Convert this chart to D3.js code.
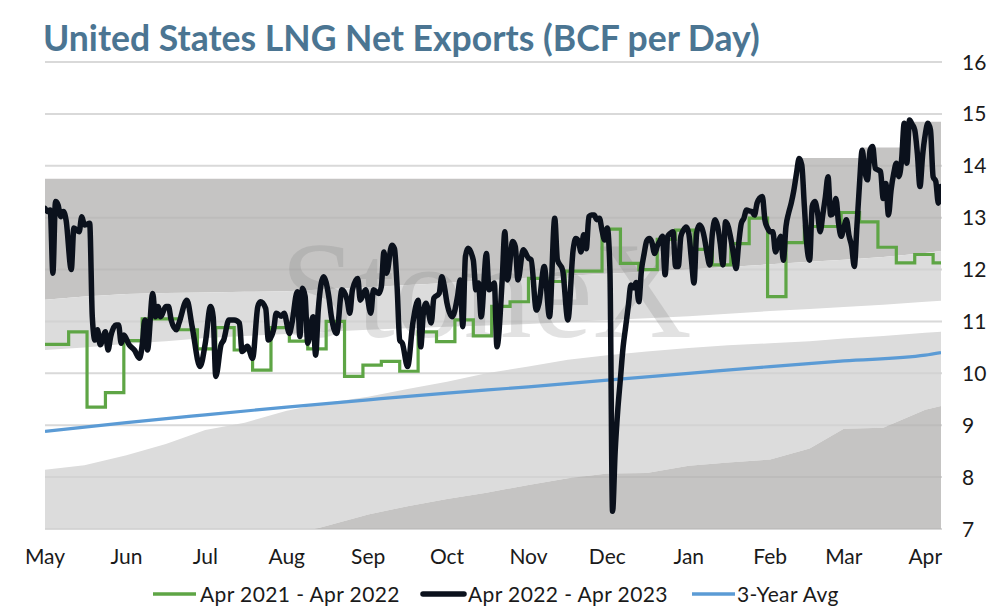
<!DOCTYPE html>
<html lang="en">
<head>
<meta charset="UTF-8">
<title>United States LNG Net Exports</title>
<script src="https://cdn.jsdelivr.net/npm/d3@7"></script>
<style>
  * { margin: 0; padding: 0; box-sizing: border-box; }
  body { background: #fff; overflow: hidden; }
  svg { display: block; font-family: Lato, 'Noto Sans', sans-serif; }
</style>
</head>
<body>
<svg id="chart" width="994" height="613"></svg>
<script>
// ---- data ----
const monthLabels = ["May", "Jun", "Jul", "Aug", "Sep", "Oct", "Nov", "Dec", "Jan", "Feb", "Mar", "Apr"];
const yTicks = [7, 8, 9, 10, 11, 12, 13, 14, 15, 16];

// historical range bands, sampled twice a month
const bandDates = ["2022-05-01", "2022-05-16", "2022-06-01", "2022-06-16", "2022-07-01", "2022-07-16",
  "2022-08-01", "2022-08-16", "2022-09-01", "2022-09-16", "2022-10-01", "2022-10-16",
  "2022-11-01", "2022-11-16", "2022-12-01", "2022-12-16", "2023-01-01", "2023-01-16",
  "2023-02-01", "2023-02-16", "2023-03-01", "2023-03-16", "2023-04-01", "2023-04-07"];
const rangeMin = [6.0, 6.15, 6.3, 6.45, 6.58, 6.7, 6.85, 7.06, 7.28, 7.44, 7.58, 7.7,
  7.85, 7.98, 8.07, 8.08, 8.22, 8.28, 8.34, 8.55, 8.93, 8.95, 9.3, 9.37];
const innerLow = [8.14, 8.23, 8.42, 8.64, 8.91, 9.05, 9.28, 9.43, 9.55, 9.7, 9.84, 10.0,
  10.13, 10.26, 10.35, 10.42, 10.49, 10.54, 10.58, 10.62, 10.67, 10.72, 10.78, 10.8];
const innerHigh = [10.45, 10.5, 10.57, 10.62, 10.68, 10.72, 10.76, 10.8, 10.84, 10.87, 10.9, 10.92,
  10.95, 10.99, 11.03, 11.06, 11.1, 11.15, 11.2, 11.24, 11.28, 11.32, 11.38, 11.4];
const upperLow = [11.42, 11.48, 11.53, 11.55, 11.56, 11.57, 11.58, 11.62, 11.66, 11.7, 11.74, 11.79,
  11.84, 11.88, 11.92, 11.96, 12.0, 12.05, 12.1, 12.15, 12.19, 12.24, 12.32, 12.36];
const maxDates = ["2022-05-01", "2023-02-11", "2023-03-08", "2023-03-24", "2023-04-07"];
const rangeMax = [13.75, 14.15, 14.35, 14.85, 14.85];

// Apr 2021 - Apr 2022 (weekly steps)
const prevDates = ["2022-05-01", "2022-05-10", "2022-05-17", "2022-05-24", "2022-05-31", "2022-06-07",
  "2022-06-14", "2022-06-21", "2022-06-28", "2022-07-05", "2022-07-12", "2022-07-19", "2022-07-26",
  "2022-08-02", "2022-08-09", "2022-08-16", "2022-08-23", "2022-08-30", "2022-09-06", "2022-09-13",
  "2022-09-20", "2022-09-27", "2022-10-04", "2022-10-11", "2022-10-18", "2022-10-25", "2022-11-01",
  "2022-11-08", "2022-11-15", "2022-11-22", "2022-11-29", "2022-12-06", "2022-12-13", "2022-12-20",
  "2022-12-27", "2023-01-03", "2023-01-10", "2023-01-17", "2023-01-24", "2023-01-31", "2023-02-07",
  "2023-02-14", "2023-02-21", "2023-02-28", "2023-03-07", "2023-03-14", "2023-03-21", "2023-03-28",
  "2023-04-04", "2023-04-07"];
const prevValues = [10.56, 10.8, 9.35, 9.63, 10.63, 11.05, 11.05, 10.84, 10.47, 10.88, 10.45, 10.06, 10.88,
  10.62, 10.47, 11.0, 9.94, 10.16, 10.23, 10.04, 10.8, 10.61, 11.03, 10.72, 11.29, 11.38, 11.83,
  11.77, 11.97, 11.97, 12.78, 12.12, 12.0, 12.58, 12.76, 12.39, 12.09, 12.5, 12.99, 11.48, 12.52,
  12.83, 12.83, 13.1, 12.92, 12.43, 12.13, 12.29, 12.13, 12.13];

// Apr 2022 - Apr 2023 (days after May 1, 2022)
const curDay = [0, 1, 2, 3, 4, 5, 6, 7, 8, 10, 11, 13, 14, 15, 17, 18, 19, 20, 21, 23, 24, 25, 27, 28, 29, 30,
  32, 34, 36, 37, 38, 39, 41, 42, 43, 44, 46, 47, 48, 50, 51, 54, 56, 59, 61, 63, 64, 65, 67, 68, 70,
  72, 74, 75, 77, 79, 81, 82, 84, 85, 87, 88, 90, 91, 93, 94, 96, 97, 98, 99, 100, 102, 103, 104, 106,
  108, 109, 111, 113, 115, 116, 117, 119, 120, 122, 124, 125, 127, 128, 129, 130, 132, 133, 134, 135,
  136, 138, 140, 142, 143, 144, 145, 147, 148, 150, 151, 152, 153, 155, 157, 158, 159, 160, 161, 163,
  164, 165, 166, 168, 169, 171, 172, 174, 175, 176, 178, 179, 180, 182, 184, 185, 187, 188, 190, 192,
  194, 195, 197, 199, 201, 202, 203, 204, 205, 206, 207, 208, 209, 210, 211, 212, 213, 214, 215, 216,
  217, 218, 219, 220, 221, 222, 223, 224, 225, 226, 227, 228, 229, 230, 231, 232, 233, 234, 235, 236,
  237, 238, 239, 240, 241, 242, 243, 244, 245, 246, 247, 248, 249, 250, 251, 252, 253, 254, 255, 256,
  257, 258, 259, 260, 261, 262, 263, 264, 265, 266, 267, 268, 269, 270, 271, 272, 273, 274, 275, 276,
  277, 278, 279, 280, 281, 282, 283, 284, 285, 286, 287, 288, 289, 290, 291, 292, 293, 294, 295, 296,
  297, 298, 299, 300, 301, 302, 303, 304, 305, 306, 307, 308, 309, 310, 311, 312, 313, 314, 315, 316,
  317, 318, 319, 320, 321, 322, 323, 324, 325, 326, 327, 328, 329, 330, 331, 332, 333, 334, 335, 336,
  337, 338, 339, 340, 341];
const curValues = [13.18, 13.12, 13.15, 11.93, 13.31, 13.24, 13.02, 13.12, 12.96, 12.0, 12.8, 12.73, 13.02,
  12.86, 12.89, 11.09, 10.64, 10.84, 10.55, 10.8, 10.45, 10.71, 10.93, 10.93, 10.58, 10.74,
  10.55, 10.45, 10.29, 10.55, 11.03, 10.45, 11.54, 11.09, 11.29, 11.09, 11.29, 11.29, 11.03, 10.84, 10.97,
  11.41, 10.9, 10.13, 10.58, 11.29, 11.09, 9.94, 10.55, 10.64, 11.03,
  11.03, 10.97, 10.42, 10.52, 10.29, 11.29, 11.38, 11.25, 10.64, 10.84, 11.16, 11.1, 11.16, 10.77, 10.97,
  11.57, 10.71, 11.64, 11.48, 10.58, 11.09, 10.35, 11.22, 11.86,
  11.48, 11.09, 10.77, 11.61, 11.41, 11.16, 11.61, 11.83, 11.41, 11.61, 11.16, 11.61, 11.54, 11.67, 12.34,
  11.93, 12.47, 12.4, 11.67, 10.64,
  10.58, 10.13, 10.97, 11.41, 10.51, 11.16, 11.35, 10.97, 11.45, 11.54, 11.86, 11.67, 11.35, 11.09, 11.48,
  11.8, 10.9, 12.25, 12.41, 12.18,
  11.61, 11.74, 11.09, 12.31, 11.61, 11.74, 10.51, 11.8, 12.73, 11.8, 12.54, 12.44, 11.8, 12.38, 12.22,
  12.19, 11.22, 11.35, 12.06, 11.09,
  12.99, 12.19, 11.99, 11.03, 12.38, 12.6, 12.55, 12.34, 12.67, 12.4, 13.02, 13.05, 13.05, 12.96, 12.99,
  12.75, 12.57, 12.8, 11.99, 7.34,
  8.5, 9.3, 9.9, 10.5, 10.9, 11.3, 11.7, 11.65, 11.75, 11.38, 11.99, 12.3, 12.55, 12.6, 12.52, 12.31,
  12.45, 12.55, 12.64, 11.9,
  12.64, 12.7, 12.73, 12.06, 12.06, 12.64, 12.76, 12.82, 12.7, 12.2, 11.74, 12.7, 12.86, 12.8, 12.6,
  12.3, 12.09, 12.7, 12.96, 12.83,
  12.5, 12.09, 12.92, 12.83, 12.6, 12.3, 12.02, 12.5, 12.89, 12.99, 13.15, 13.13, 13.12, 13.05, 13.28,
  13.38, 13.41, 12.95, 12.8, 12.73,
  12.73, 12.34, 12.5, 12.64, 12.18, 12.83, 13.09, 13.28, 13.53, 13.85, 14.14, 14.02, 13.22, 12.44, 12.18,
  13.22, 13.31, 13.1, 12.73, 13.05,
  13.4, 13.79, 13.05, 13.09, 13.37, 12.9, 12.64, 12.8, 12.96, 12.65, 12.45, 12.06, 12.83, 13.66, 14.3,
  13.9, 13.73, 14.3, 14.37, 13.95,
  13.92, 13.89, 13.37, 13.66, 13.05, 13.53, 13.85, 14.05, 13.79, 14.11, 14.82, 14.05, 14.88, 14.8, 14.69,
  14.24, 13.6, 14.2, 14.6, 14.82,
  14.69, 13.79, 13.7, 13.28, 13.6];

// 3-year average
const avgDates = ["2022-05-01", "2022-06-01", "2022-07-01", "2022-08-01", "2022-09-01", "2022-10-01",
  "2022-11-01", "2022-12-01", "2023-01-01", "2023-02-01", "2023-03-01", "2023-04-01", "2023-04-07"];
const avgValues = [8.88, 9.05, 9.2, 9.35, 9.49, 9.62, 9.74, 9.87, 10.0, 10.13, 10.24, 10.35, 10.4];

const legendLabels = ["Apr 2021 - Apr 2022", "Apr 2022 - Apr 2023", "3-Year Avg"];

// ---- colours ----
const DARK = '#c5c4c3', LIGHT = '#dcdcdc';
const GREEN = '#5ea545', BLACK = '#0b111c', BLUE = '#5b9bd5';

// ---- scales ----
const parse = d3.utcParse('%Y-%m-%d');
const start = parse('2022-05-01');
const end = parse('2023-04-07');
const x = d3.scaleUtc().domain([start, end]).range([45, 941]);
const y = d3.scaleLinear().domain([7, 16]).range([529, 62]);

const svg = d3.select('#chart');
const defs = svg.append('defs');

defs.append('clipPath').attr('id', 'plot')
  .append('rect').attr('x', 45).attr('y', 40).attr('width', 896).attr('height', 489);

const bands = bandDates.map((d, i) => ({
  date: parse(d), min: rangeMin[i], lo: innerLow[i], hi: innerHigh[i], up: upperLow[i]
}));
const maxData = maxDates.map((d, i) => ({ date: parse(d), v: rangeMax[i] }));

// region above upperLow, used to clip the top dark band
defs.append('clipPath').attr('id', 'aboveUpper')
  .append('path')
  .attr('d', d3.area().x(d => x(d.date)).y0(d => y(d.up)).y1(y(16.5))(bands));

// gridlines (under the bands, show through the white gap)
const grid = svg.append('g');
grid.selectAll('line').data(yTicks).enter().append('line')
  .attr('x1', 45).attr('x2', 942)
  .attr('y1', d => y(d)).attr('y2', d => y(d))
  .attr('stroke', '#e2e2e2').attr('stroke-width', 2);

const bandG = svg.append('g').attr('clip-path', 'url(#plot)');

bandG.append('g').attr('clip-path', 'url(#aboveUpper)')
  .append('path')
  .attr('fill', DARK)
  .attr('d', d3.area().curve(d3.curveStepAfter)
    .x(d => x(d.date)).y0(y(7)).y1(d => y(d.v))(maxData));

bandG.append('path').attr('fill', LIGHT)
  .attr('d', d3.area().x(d => x(d.date)).y0(d => y(d.hi)).y1(d => y(d.up))(bands));

bandG.append('path').attr('fill', LIGHT)
  .attr('d', d3.area().x(d => x(d.date)).y0(d => y(d.min)).y1(d => y(d.lo))(bands));

bandG.append('path').attr('fill', DARK)
  .attr('d', d3.area().x(d => x(d.date)).y0(y(6)).y1(d => y(d.min))(bands));

// faint gridlines over the bands
const grid2 = svg.append('g');
grid2.selectAll('line').data(yTicks).enter().append('line')
  .attr('x1', 45).attr('x2', 942)
  .attr('y1', d => y(d)).attr('y2', d => y(d))
  .attr('stroke', '#000').attr('stroke-opacity', 0.04).attr('stroke-width', 2);

// watermark
const wm = svg.append('text')
  .attr('x', 280).attr('y', 337)
  .attr('font-family', "'Liberation Serif', 'DejaVu Serif', serif")
  .attr('font-size', 137)
  .attr('fill', '#7a7a7a').attr('fill-opacity', 0.22)
  .text('StoneX');
const wmw = wm.node().getComputedTextLength();
wm.attr('font-size', 137 * 412 / wmw);

// ---- series ----
const lineG = svg.append('g').attr('clip-path', 'url(#plot)');

lineG.append('path')
  .attr('fill', 'none').attr('stroke', BLUE).attr('stroke-width', 3.2)
  .attr('d', d3.line().curve(d3.curveMonotoneX)
    .x((d, i) => x(parse(d))).y((d, i) => y(avgValues[i]))(avgDates));

lineG.append('path')
  .attr('fill', 'none').attr('stroke', GREEN).attr('stroke-width', 3.2)
  .attr('d', d3.line().curve(d3.curveStepAfter)
    .x(d => x(parse(d))).y((d, i) => y(prevValues[i]))(prevDates));

lineG.append('path')
  .attr('fill', 'none').attr('stroke', BLACK).attr('stroke-width', 5.5)
  .attr('stroke-linejoin', 'round').attr('stroke-linecap', 'round')
  .attr('d', d3.line().curve(d3.curveMonotoneX)
    .x(d => x(d3.utcDay.offset(start, d))).y((d, i) => y(curValues[i]))(curDay));

// ---- axes ----
const months = d3.utcMonth.range(start, end);
svg.append('g').selectAll('text').data(months).enter().append('text')
  .attr('x', d => x(d)).attr('y', 564)
  .attr('text-anchor', 'middle')
  .attr('font-size', 21).attr('fill', '#1a1a1a')
  .text((d, i) => monthLabels[i]);

svg.append('g').selectAll('text').data(yTicks).enter().append('text')
  .attr('x', 962).attr('y', d => y(d) + 7.5)
  .attr('font-size', 21).attr('fill', '#1a1a1a')
  .text(d => d);

// ---- title ----
const title = svg.append('text')
  .attr('x', 43).attr('y', 51)
  .attr('font-size', 34).attr('font-weight', 700)
  .attr('fill', '#4b7592')
  .text('United States LNG Net Exports (BCF per Day)');
const tw = title.node().getComputedTextLength();
title.attr('font-size', 34 * 717 / tw);

// ---- legend ----
const legendItems = [
  { color: GREEN, width: 3.5, x1: 153, x2: 196, tx: 200 },
  { color: BLACK, width: 5.5, x1: 423, x2: 464, tx: 468 },
  { color: BLUE, width: 3.5, x1: 692, x2: 735, tx: 737 }
];
const lg = svg.append('g');
legendItems.forEach((it, i) => {
  const t = lg.append('text')
    .attr('x', it.tx).attr('y', 601.5)
    .attr('font-size', 21).attr('fill', '#1a1a1a')
    .attr('letter-spacing', 0.4)
    .text(legendLabels[i]);
  lg.append('line')
    .attr('x1', it.x1).attr('x2', it.x2).attr('y1', 594).attr('y2', 594)
    .attr('stroke', it.color).attr('stroke-width', it.width)
    .attr('stroke-linecap', i === 1 ? 'round' : 'butt');
});
</script>
</body>
</html>
